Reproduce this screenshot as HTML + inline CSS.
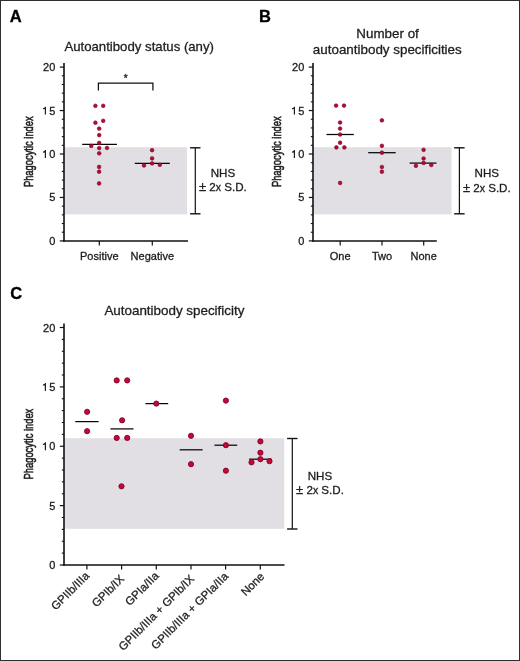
<!DOCTYPE html>
<html><head><meta charset="utf-8"><style>
html,body{margin:0;padding:0;background:#fff;}
body{width:520px;height:661px;overflow:hidden;}
svg{display:block;will-change:transform;}
text{font-family:"Liberation Sans",sans-serif;fill:#1e1e1e;stroke:#1e1e1e;stroke-width:0.3px;}
.tk{font-size:11px;}
.cat{font-size:11px;}
.nhs{font-size:11.6px;}
.ttl{font-size:13.4px;}
.pl{font-size:16.5px;font-weight:bold;fill:#000;stroke:#000;}
.yl{font-size:13.4px;stroke:#1e1e1e;stroke-width:0.6px;}
.star{font-size:10px;}
</style></head><body>
<svg width="520" height="661" viewBox="0 0 520 661">
<rect x="0" y="0" width="520" height="661" fill="#fff"/>
<rect x="64" y="147.2" width="123" height="67.2" fill="#e1dfe4"/>
<line x1="64" y1="63" x2="64" y2="241.70000000000002" stroke="#111" stroke-width="1.6"/>
<line x1="59.8" y1="240.90" x2="64" y2="240.90" stroke="#111" stroke-width="1.2"/>
<text x="55.3" y="244.90" text-anchor="end" class="tk">0</text>
<line x1="61.8" y1="232.21" x2="64" y2="232.21" stroke="#111" stroke-width="1.1"/>
<line x1="61.8" y1="223.52" x2="64" y2="223.52" stroke="#111" stroke-width="1.1"/>
<line x1="61.8" y1="214.83" x2="64" y2="214.83" stroke="#111" stroke-width="1.1"/>
<line x1="61.8" y1="206.14" x2="64" y2="206.14" stroke="#111" stroke-width="1.1"/>
<line x1="59.8" y1="197.45" x2="64" y2="197.45" stroke="#111" stroke-width="1.2"/>
<text x="55.3" y="201.45" text-anchor="end" class="tk">5</text>
<line x1="61.8" y1="188.76" x2="64" y2="188.76" stroke="#111" stroke-width="1.1"/>
<line x1="61.8" y1="180.07" x2="64" y2="180.07" stroke="#111" stroke-width="1.1"/>
<line x1="61.8" y1="171.38" x2="64" y2="171.38" stroke="#111" stroke-width="1.1"/>
<line x1="61.8" y1="162.69" x2="64" y2="162.69" stroke="#111" stroke-width="1.1"/>
<line x1="59.8" y1="154.00" x2="64" y2="154.00" stroke="#111" stroke-width="1.2"/>
<text x="55.3" y="158.00" text-anchor="end" class="tk">0</text>
<path d="M46.00 150.10 V158.00 H44.80 V152.50 L42.90 152.70 V151.70 Q44.70 151.30 45.10 150.10 Z" fill="#1e1e1e"/>
<line x1="61.8" y1="145.31" x2="64" y2="145.31" stroke="#111" stroke-width="1.1"/>
<line x1="61.8" y1="136.62" x2="64" y2="136.62" stroke="#111" stroke-width="1.1"/>
<line x1="61.8" y1="127.93" x2="64" y2="127.93" stroke="#111" stroke-width="1.1"/>
<line x1="61.8" y1="119.24" x2="64" y2="119.24" stroke="#111" stroke-width="1.1"/>
<line x1="59.8" y1="110.55" x2="64" y2="110.55" stroke="#111" stroke-width="1.2"/>
<text x="55.3" y="114.55" text-anchor="end" class="tk">5</text>
<path d="M46.00 106.65 V114.55 H44.80 V109.05 L42.90 109.25 V108.25 Q44.70 107.85 45.10 106.65 Z" fill="#1e1e1e"/>
<line x1="61.8" y1="101.86" x2="64" y2="101.86" stroke="#111" stroke-width="1.1"/>
<line x1="61.8" y1="93.17" x2="64" y2="93.17" stroke="#111" stroke-width="1.1"/>
<line x1="61.8" y1="84.48" x2="64" y2="84.48" stroke="#111" stroke-width="1.1"/>
<line x1="61.8" y1="75.79" x2="64" y2="75.79" stroke="#111" stroke-width="1.1"/>
<line x1="59.8" y1="67.10" x2="64" y2="67.10" stroke="#111" stroke-width="1.2"/>
<text x="55.3" y="71.10" text-anchor="end" class="tk">20</text>
<line x1="63.2" y1="241" x2="188" y2="241" stroke="#111" stroke-width="1.6"/>
<line x1="99.3" y1="241" x2="99.3" y2="245.5" stroke="#111" stroke-width="1.2"/>
<line x1="152.3" y1="241" x2="152.3" y2="245.5" stroke="#111" stroke-width="1.2"/>
<text x="99.3" y="259.7" text-anchor="middle" class="cat">Positive</text>
<text x="152.3" y="259.7" text-anchor="middle" class="cat">Negative</text>
<line x1="195.3" y1="147.8" x2="195.3" y2="213.8" stroke="#111" stroke-width="1.2"/>
<line x1="190.10000000000002" y1="147.8" x2="200.5" y2="147.8" stroke="#111" stroke-width="1.4"/>
<line x1="190.10000000000002" y1="213.8" x2="200.5" y2="213.8" stroke="#111" stroke-width="1.4"/>
<text x="222.9" y="177.3" text-anchor="middle" class="nhs">NHS</text>
<text x="222.9" y="191.4" text-anchor="middle" class="nhs"><tspan style="font-size:13px">±</tspan> 2<tspan style="font-size:10.5px">x</tspan> S.D.</text>
<text x="64.4" y="51.2" class="ttl" style="font-size:13.2px">Autoantibody status (any)</text>
<text x="9.7" y="21.6" class="pl">A</text>
<text transform="translate(32.9,151.7) rotate(-90) scale(0.7,1)" text-anchor="middle" class="yl">Phagocytic index</text>
<path d="M98.4 90.4 V83 H152.9 V90.4" fill="none" stroke="#111" stroke-width="1.25"/>
<text x="125.7" y="82.2" text-anchor="middle" class="star">*</text>
<line x1="82.2" y1="144.4" x2="116.9" y2="144.4" stroke="#050505" stroke-width="1.25"/>
<line x1="134.8" y1="163.4" x2="169.8" y2="163.4" stroke="#050505" stroke-width="1.25"/>
<circle cx="95.4" cy="105.8" r="1.85" fill="#b40b37" stroke="#820727" stroke-width="0.6"/>
<circle cx="103.2" cy="105.8" r="1.85" fill="#b40b37" stroke="#820727" stroke-width="0.6"/>
<circle cx="95.4" cy="122.7" r="1.85" fill="#b40b37" stroke="#820727" stroke-width="0.6"/>
<circle cx="103.2" cy="120.8" r="1.85" fill="#b40b37" stroke="#820727" stroke-width="0.6"/>
<circle cx="99.2" cy="128.6" r="1.85" fill="#b40b37" stroke="#820727" stroke-width="0.6"/>
<circle cx="99.2" cy="135.1" r="1.85" fill="#b40b37" stroke="#820727" stroke-width="0.6"/>
<circle cx="99.2" cy="142.9" r="1.85" fill="#b40b37" stroke="#820727" stroke-width="0.6"/>
<circle cx="91.3" cy="145.9" r="1.85" fill="#b40b37" stroke="#820727" stroke-width="0.6"/>
<circle cx="99.2" cy="148.1" r="1.85" fill="#b40b37" stroke="#820727" stroke-width="0.6"/>
<circle cx="107.0" cy="147.9" r="1.85" fill="#b40b37" stroke="#820727" stroke-width="0.6"/>
<circle cx="99.2" cy="153.3" r="1.85" fill="#b40b37" stroke="#820727" stroke-width="0.6"/>
<circle cx="99.1" cy="166.9" r="1.85" fill="#b40b37" stroke="#820727" stroke-width="0.6"/>
<circle cx="99.1" cy="171.7" r="1.85" fill="#b40b37" stroke="#820727" stroke-width="0.6"/>
<circle cx="99.1" cy="183.4" r="1.85" fill="#b40b37" stroke="#820727" stroke-width="0.6"/>
<circle cx="152.1" cy="150.2" r="1.85" fill="#b40b37" stroke="#820727" stroke-width="0.6"/>
<circle cx="152.1" cy="158.4" r="1.85" fill="#b40b37" stroke="#820727" stroke-width="0.6"/>
<circle cx="152.1" cy="163.4" r="1.85" fill="#b40b37" stroke="#820727" stroke-width="0.6"/>
<circle cx="144.0" cy="165.5" r="1.85" fill="#b40b37" stroke="#820727" stroke-width="0.6"/>
<circle cx="159.8" cy="164.8" r="1.85" fill="#b40b37" stroke="#820727" stroke-width="0.6"/>
<rect x="313" y="147.2" width="138.5" height="67.2" fill="#e1dfe4"/>
<line x1="313" y1="63" x2="313" y2="241.70000000000002" stroke="#111" stroke-width="1.6"/>
<line x1="308.8" y1="240.90" x2="313" y2="240.90" stroke="#111" stroke-width="1.2"/>
<text x="304.3" y="244.90" text-anchor="end" class="tk">0</text>
<line x1="310.8" y1="232.21" x2="313" y2="232.21" stroke="#111" stroke-width="1.1"/>
<line x1="310.8" y1="223.52" x2="313" y2="223.52" stroke="#111" stroke-width="1.1"/>
<line x1="310.8" y1="214.83" x2="313" y2="214.83" stroke="#111" stroke-width="1.1"/>
<line x1="310.8" y1="206.14" x2="313" y2="206.14" stroke="#111" stroke-width="1.1"/>
<line x1="308.8" y1="197.45" x2="313" y2="197.45" stroke="#111" stroke-width="1.2"/>
<text x="304.3" y="201.45" text-anchor="end" class="tk">5</text>
<line x1="310.8" y1="188.76" x2="313" y2="188.76" stroke="#111" stroke-width="1.1"/>
<line x1="310.8" y1="180.07" x2="313" y2="180.07" stroke="#111" stroke-width="1.1"/>
<line x1="310.8" y1="171.38" x2="313" y2="171.38" stroke="#111" stroke-width="1.1"/>
<line x1="310.8" y1="162.69" x2="313" y2="162.69" stroke="#111" stroke-width="1.1"/>
<line x1="308.8" y1="154.00" x2="313" y2="154.00" stroke="#111" stroke-width="1.2"/>
<text x="304.3" y="158.00" text-anchor="end" class="tk">0</text>
<path d="M295.00 150.10 V158.00 H293.80 V152.50 L291.90 152.70 V151.70 Q293.70 151.30 294.10 150.10 Z" fill="#1e1e1e"/>
<line x1="310.8" y1="145.31" x2="313" y2="145.31" stroke="#111" stroke-width="1.1"/>
<line x1="310.8" y1="136.62" x2="313" y2="136.62" stroke="#111" stroke-width="1.1"/>
<line x1="310.8" y1="127.93" x2="313" y2="127.93" stroke="#111" stroke-width="1.1"/>
<line x1="310.8" y1="119.24" x2="313" y2="119.24" stroke="#111" stroke-width="1.1"/>
<line x1="308.8" y1="110.55" x2="313" y2="110.55" stroke="#111" stroke-width="1.2"/>
<text x="304.3" y="114.55" text-anchor="end" class="tk">5</text>
<path d="M295.00 106.65 V114.55 H293.80 V109.05 L291.90 109.25 V108.25 Q293.70 107.85 294.10 106.65 Z" fill="#1e1e1e"/>
<line x1="310.8" y1="101.86" x2="313" y2="101.86" stroke="#111" stroke-width="1.1"/>
<line x1="310.8" y1="93.17" x2="313" y2="93.17" stroke="#111" stroke-width="1.1"/>
<line x1="310.8" y1="84.48" x2="313" y2="84.48" stroke="#111" stroke-width="1.1"/>
<line x1="310.8" y1="75.79" x2="313" y2="75.79" stroke="#111" stroke-width="1.1"/>
<line x1="308.8" y1="67.10" x2="313" y2="67.10" stroke="#111" stroke-width="1.2"/>
<text x="304.3" y="71.10" text-anchor="end" class="tk">20</text>
<line x1="312.2" y1="241" x2="436.8" y2="241" stroke="#111" stroke-width="1.6"/>
<line x1="340.2" y1="241" x2="340.2" y2="245.5" stroke="#111" stroke-width="1.2"/>
<line x1="382.0" y1="241" x2="382.0" y2="245.5" stroke="#111" stroke-width="1.2"/>
<line x1="423.7" y1="241" x2="423.7" y2="245.5" stroke="#111" stroke-width="1.2"/>
<text x="340.2" y="259.7" text-anchor="middle" class="cat">One</text>
<text x="382.0" y="259.7" text-anchor="middle" class="cat">Two</text>
<text x="423.7" y="259.7" text-anchor="middle" class="cat">None</text>
<line x1="459.4" y1="147.8" x2="459.4" y2="213.8" stroke="#111" stroke-width="1.2"/>
<line x1="454.2" y1="147.8" x2="464.59999999999997" y2="147.8" stroke="#111" stroke-width="1.4"/>
<line x1="454.2" y1="213.8" x2="464.59999999999997" y2="213.8" stroke="#111" stroke-width="1.4"/>
<text x="486.8" y="177.2" text-anchor="middle" class="nhs">NHS</text>
<text x="486.8" y="191.5" text-anchor="middle" class="nhs"><tspan style="font-size:13px">±</tspan> 2<tspan style="font-size:10.5px">x</tspan> S.D.</text>
<text x="387.6" y="38" text-anchor="middle" class="ttl">Number of</text>
<text x="387.3" y="54.2" text-anchor="middle" class="ttl">autoantibody specificities</text>
<text x="259" y="22" class="pl">B</text>
<text transform="translate(281.4,151.7) rotate(-90) scale(0.7,1)" text-anchor="middle" class="yl">Phagocytic index</text>
<line x1="326.5" y1="134.5" x2="353.8" y2="134.5" stroke="#050505" stroke-width="1.25"/>
<line x1="368.2" y1="152.7" x2="395.7" y2="152.7" stroke="#050505" stroke-width="1.25"/>
<line x1="409.6" y1="163.1" x2="436.5" y2="163.1" stroke="#050505" stroke-width="1.25"/>
<circle cx="336.1" cy="105.6" r="1.85" fill="#b40b37" stroke="#820727" stroke-width="0.6"/>
<circle cx="344.0" cy="105.6" r="1.85" fill="#b40b37" stroke="#820727" stroke-width="0.6"/>
<circle cx="340.1" cy="122.5" r="1.85" fill="#b40b37" stroke="#820727" stroke-width="0.6"/>
<circle cx="340.1" cy="128.6" r="1.85" fill="#b40b37" stroke="#820727" stroke-width="0.6"/>
<circle cx="340.1" cy="134.5" r="1.85" fill="#b40b37" stroke="#820727" stroke-width="0.6"/>
<circle cx="340.1" cy="142.7" r="1.85" fill="#b40b37" stroke="#820727" stroke-width="0.6"/>
<circle cx="336.4" cy="147.4" r="1.85" fill="#b40b37" stroke="#820727" stroke-width="0.6"/>
<circle cx="344.4" cy="147.4" r="1.85" fill="#b40b37" stroke="#820727" stroke-width="0.6"/>
<circle cx="340.1" cy="182.9" r="1.85" fill="#b40b37" stroke="#820727" stroke-width="0.6"/>
<circle cx="381.9" cy="120.3" r="1.85" fill="#b40b37" stroke="#820727" stroke-width="0.6"/>
<circle cx="381.9" cy="145.8" r="1.85" fill="#b40b37" stroke="#820727" stroke-width="0.6"/>
<circle cx="381.9" cy="152.7" r="1.85" fill="#b40b37" stroke="#820727" stroke-width="0.6"/>
<circle cx="381.9" cy="167.0" r="1.85" fill="#b40b37" stroke="#820727" stroke-width="0.6"/>
<circle cx="381.9" cy="171.7" r="1.85" fill="#b40b37" stroke="#820727" stroke-width="0.6"/>
<circle cx="423.6" cy="149.8" r="1.85" fill="#b40b37" stroke="#820727" stroke-width="0.6"/>
<circle cx="423.6" cy="158.5" r="1.85" fill="#b40b37" stroke="#820727" stroke-width="0.6"/>
<circle cx="423.6" cy="162.9" r="1.85" fill="#b40b37" stroke="#820727" stroke-width="0.6"/>
<circle cx="415.9" cy="165.8" r="1.85" fill="#b40b37" stroke="#820727" stroke-width="0.6"/>
<circle cx="431.3" cy="165.0" r="1.85" fill="#b40b37" stroke="#820727" stroke-width="0.6"/>
<rect x="64" y="438.2" width="220.2" height="90.6" fill="#e1dfe4"/>
<line x1="64" y1="323.5" x2="64" y2="565.8" stroke="#111" stroke-width="1.6"/>
<line x1="59.8" y1="565.00" x2="64" y2="565.00" stroke="#111" stroke-width="1.2"/>
<text x="55.3" y="569.00" text-anchor="end" class="tk">0</text>
<line x1="61.8" y1="553.12" x2="64" y2="553.12" stroke="#111" stroke-width="1.1"/>
<line x1="61.8" y1="541.25" x2="64" y2="541.25" stroke="#111" stroke-width="1.1"/>
<line x1="61.8" y1="529.38" x2="64" y2="529.38" stroke="#111" stroke-width="1.1"/>
<line x1="61.8" y1="517.50" x2="64" y2="517.50" stroke="#111" stroke-width="1.1"/>
<line x1="59.8" y1="505.62" x2="64" y2="505.62" stroke="#111" stroke-width="1.2"/>
<text x="55.3" y="509.62" text-anchor="end" class="tk">5</text>
<line x1="61.8" y1="493.75" x2="64" y2="493.75" stroke="#111" stroke-width="1.1"/>
<line x1="61.8" y1="481.88" x2="64" y2="481.88" stroke="#111" stroke-width="1.1"/>
<line x1="61.8" y1="470.00" x2="64" y2="470.00" stroke="#111" stroke-width="1.1"/>
<line x1="61.8" y1="458.12" x2="64" y2="458.12" stroke="#111" stroke-width="1.1"/>
<line x1="59.8" y1="446.25" x2="64" y2="446.25" stroke="#111" stroke-width="1.2"/>
<text x="55.3" y="450.25" text-anchor="end" class="tk">0</text>
<path d="M46.00 442.35 V450.25 H44.80 V444.75 L42.90 444.95 V443.95 Q44.70 443.55 45.10 442.35 Z" fill="#1e1e1e"/>
<line x1="61.8" y1="434.38" x2="64" y2="434.38" stroke="#111" stroke-width="1.1"/>
<line x1="61.8" y1="422.50" x2="64" y2="422.50" stroke="#111" stroke-width="1.1"/>
<line x1="61.8" y1="410.62" x2="64" y2="410.62" stroke="#111" stroke-width="1.1"/>
<line x1="61.8" y1="398.75" x2="64" y2="398.75" stroke="#111" stroke-width="1.1"/>
<line x1="59.8" y1="386.88" x2="64" y2="386.88" stroke="#111" stroke-width="1.2"/>
<text x="55.3" y="390.88" text-anchor="end" class="tk">5</text>
<path d="M46.00 382.98 V390.88 H44.80 V385.38 L42.90 385.58 V384.58 Q44.70 384.18 45.10 382.98 Z" fill="#1e1e1e"/>
<line x1="61.8" y1="375.00" x2="64" y2="375.00" stroke="#111" stroke-width="1.1"/>
<line x1="61.8" y1="363.12" x2="64" y2="363.12" stroke="#111" stroke-width="1.1"/>
<line x1="61.8" y1="351.25" x2="64" y2="351.25" stroke="#111" stroke-width="1.1"/>
<line x1="61.8" y1="339.38" x2="64" y2="339.38" stroke="#111" stroke-width="1.1"/>
<line x1="59.8" y1="327.50" x2="64" y2="327.50" stroke="#111" stroke-width="1.2"/>
<text x="55.3" y="331.50" text-anchor="end" class="tk">20</text>
<line x1="63.2" y1="565" x2="284.5" y2="565" stroke="#111" stroke-width="1.6"/>
<line x1="86.9" y1="565" x2="86.9" y2="569.5" stroke="#111" stroke-width="1.2"/>
<line x1="121.6" y1="565" x2="121.6" y2="569.5" stroke="#111" stroke-width="1.2"/>
<line x1="156.3" y1="565" x2="156.3" y2="569.5" stroke="#111" stroke-width="1.2"/>
<line x1="191.0" y1="565" x2="191.0" y2="569.5" stroke="#111" stroke-width="1.2"/>
<line x1="225.6" y1="565" x2="225.6" y2="569.5" stroke="#111" stroke-width="1.2"/>
<line x1="260.3" y1="565" x2="260.3" y2="569.5" stroke="#111" stroke-width="1.2"/>
<line x1="292.3" y1="438.5" x2="292.3" y2="529.0" stroke="#111" stroke-width="1.2"/>
<line x1="287.1" y1="438.5" x2="297.5" y2="438.5" stroke="#111" stroke-width="1.4"/>
<line x1="287.1" y1="529.0" x2="297.5" y2="529.0" stroke="#111" stroke-width="1.4"/>
<text x="320" y="480.2" text-anchor="middle" class="nhs">NHS</text>
<text x="320" y="493.9" text-anchor="middle" class="nhs"><tspan style="font-size:13px">±</tspan> 2<tspan style="font-size:10.5px">x</tspan> S.D.</text>
<text x="174.4" y="315.4" text-anchor="middle" class="ttl">Autoantibody specificity</text>
<text x="10.3" y="299" class="pl">C</text>
<text transform="translate(33.0,444.1) rotate(-90) scale(0.7,1)" text-anchor="middle" class="yl">Phagocytic index</text>
<text transform="translate(89.90,576.50) rotate(-45)" text-anchor="end" class="cat" style="font-size:11.45px">GPIIb/IIIa</text>
<text transform="translate(124.80,579.50) rotate(-45)" text-anchor="end" class="cat" style="font-size:11.45px">GPIb/IX</text>
<text transform="translate(159.50,576.50) rotate(-45)" text-anchor="end" class="cat" style="font-size:11.45px">GPIa/IIa</text>
<text transform="translate(195.00,579.50) rotate(-45)" text-anchor="end" class="cat" style="font-size:11.45px">GPIIb/IIIa + GPIb/IX</text>
<text transform="translate(228.90,576.90) rotate(-45)" text-anchor="end" class="cat" style="font-size:11.45px">GPIIb/IIIa + GPIa/IIa</text>
<text transform="translate(265.00,577.20) rotate(-45)" text-anchor="end" class="cat" style="font-size:11.45px">None</text>
<line x1="75.3" y1="421.6" x2="98.6" y2="421.6" stroke="#050505" stroke-width="1.25"/>
<line x1="110.4" y1="428.9" x2="133.5" y2="428.9" stroke="#050505" stroke-width="1.25"/>
<line x1="145.4" y1="403.6" x2="168.2" y2="403.6" stroke="#050505" stroke-width="1.25"/>
<line x1="179.7" y1="449.8" x2="202.6" y2="449.8" stroke="#050505" stroke-width="1.25"/>
<line x1="214.4" y1="445.2" x2="237.2" y2="445.2" stroke="#050505" stroke-width="1.25"/>
<line x1="249.1" y1="459.2" x2="271.7" y2="459.2" stroke="#050505" stroke-width="1.25"/>
<circle cx="87.1" cy="411.8" r="2.6" fill="#c8063c" stroke="#7e0626" stroke-width="0.9"/>
<circle cx="87.1" cy="431.2" r="2.6" fill="#c8063c" stroke="#7e0626" stroke-width="0.9"/>
<circle cx="116.7" cy="380.4" r="2.6" fill="#c8063c" stroke="#7e0626" stroke-width="0.9"/>
<circle cx="127.2" cy="380.4" r="2.6" fill="#c8063c" stroke="#7e0626" stroke-width="0.9"/>
<circle cx="122.1" cy="420.3" r="2.6" fill="#c8063c" stroke="#7e0626" stroke-width="0.9"/>
<circle cx="116.7" cy="437.9" r="2.6" fill="#c8063c" stroke="#7e0626" stroke-width="0.9"/>
<circle cx="127.2" cy="437.9" r="2.6" fill="#c8063c" stroke="#7e0626" stroke-width="0.9"/>
<circle cx="121.5" cy="486.3" r="2.6" fill="#c8063c" stroke="#7e0626" stroke-width="0.9"/>
<circle cx="156.3" cy="403.6" r="2.6" fill="#c8063c" stroke="#7e0626" stroke-width="0.9"/>
<circle cx="191.0" cy="435.8" r="2.6" fill="#c8063c" stroke="#7e0626" stroke-width="0.9"/>
<circle cx="191.0" cy="464.2" r="2.6" fill="#c8063c" stroke="#7e0626" stroke-width="0.9"/>
<circle cx="225.9" cy="400.6" r="2.6" fill="#c8063c" stroke="#7e0626" stroke-width="0.9"/>
<circle cx="225.9" cy="445.2" r="2.6" fill="#c8063c" stroke="#7e0626" stroke-width="0.9"/>
<circle cx="225.9" cy="470.7" r="2.6" fill="#c8063c" stroke="#7e0626" stroke-width="0.9"/>
<circle cx="260.4" cy="441.4" r="2.6" fill="#c8063c" stroke="#7e0626" stroke-width="0.9"/>
<circle cx="260.4" cy="452.7" r="2.6" fill="#c8063c" stroke="#7e0626" stroke-width="0.9"/>
<circle cx="260.4" cy="459.2" r="2.6" fill="#c8063c" stroke="#7e0626" stroke-width="0.9"/>
<circle cx="251.5" cy="462.3" r="2.6" fill="#c8063c" stroke="#7e0626" stroke-width="0.9"/>
<circle cx="269.5" cy="461.2" r="2.6" fill="#c8063c" stroke="#7e0626" stroke-width="0.9"/>
<rect x="0.5" y="0.5" width="519" height="660" fill="none" stroke="#2e2e2e" stroke-width="1"/>
</svg>
</body></html>
